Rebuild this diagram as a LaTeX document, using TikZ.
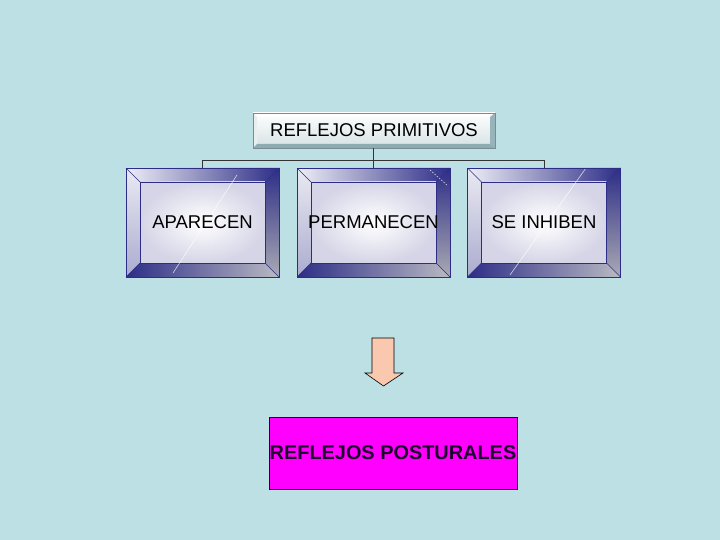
\documentclass[tikz,border=0pt]{standalone}
\usepackage{fontspec}
\setmainfont{Liberation Sans}
\usetikzlibrary{calc}
\definecolor{bg}{RGB}{188,224,228}
\definecolor{navy}{RGB}{45,45,135}
\definecolor{peach}{RGB}{250,200,175}
\definecolor{mag}{RGB}{255,0,255}
\definecolor{topedge}{RGB}{120,140,145}
\definecolor{tfacebot}{RGB}{212,225,228}
\definecolor{tright}{RGB}{150,180,186}
\definecolor{tbot}{RGB}{140,172,178}
\definecolor{gray1}{RGB}{170,170,180}
\definecolor{gray2}{RGB}{185,185,195}
\definecolor{postedge}{RGB}{40,0,50}
\definecolor{posttext}{RGB}{30,0,45}
\newcommand\bevshade[3]{%
 \path (#2-76.5,#3-54.5) coordinate (#1A) (#2+76.5,#3-54.5) coordinate (#1B)
       (#2+76.5,#3+54.5) coordinate (#1C) (#2-76.5,#3+54.5) coordinate (#1D)
       (#2-62.5,#3-40.5) coordinate (#1a) (#2+62.5,#3-40.5) coordinate (#1b)
       (#2+62.5,#3+40.5) coordinate (#1c) (#2-62.5,#3+40.5) coordinate (#1d);
 \shade[left color=white!92!navy, right color=navy] (#1A)--(#1B)--(#1b)--(#1a)--cycle;
 \shade[top color=white!90!navy, bottom color=white!60!navy] (#1A)--(#1a)--(#1d)--(#1D)--cycle;
 \shade[top color=navy, bottom color=gray1] (#1B)--(#1C)--(#1c)--(#1b)--cycle;
 \shade[left color=navy, right color=gray2] (#1D)--(#1d)--(#1c)--(#1C)--cycle;
 \shade[inner color=white, outer color=white!80!navy] (#1a) rectangle (#1c);
 \draw[navy, line width=0.5pt] (#1A)--(#1a) (#1B)--(#1b) (#1C)--(#1c) (#1D)--(#1d);
 \draw[navy, line width=0.7pt] (#1a) rectangle (#1c);
}
\begin{document}
\begin{tikzpicture}[x=1pt,y=-1pt,
  lbl/.style={font=\fontsize{18.5}{20}\selectfont, text=black, inner sep=0pt},
  bevnode/.style={lbl, draw=navy, line width=0.7pt, minimum width=153pt, minimum height=109pt},
  conn/.style={draw=black!80, line width=0.6pt}]
\fill[bg] (0,0) rectangle (720,540);
\useasboundingbox (0,0) rectangle (720,540);

% top box
\shade[top color=white, bottom color=tfacebot] (253,113) rectangle (495,148);
\fill[white] (253,113)--(495,113)--(490,117)--(257,117)--cycle;
\fill[white!85!topedge] (253,113)--(257,117)--(257,144)--(253,148)--cycle;
\fill[tright] (495,113)--(495,148)--(490,144)--(490,117)--cycle;
\fill[tbot] (253,148)--(495,148)--(490,144)--(257,144)--cycle;
\node[lbl, draw=topedge, line width=0.6pt, minimum width=242pt, minimum height=35pt] (top) at (374,130.5) {REFLEJOS PRIMITIVOS};

% beveled boxes
\bevshade{p}{202.5}{222.5}
\bevshade{q}{373.5}{222.5}
\bevshade{r}{544}{222.5}
\draw[white, opacity=0.75, line width=0.6pt] (237,175) -- (173,273);
\draw[white, opacity=0.75, line width=0.6pt] (586,168) -- (510,275);
\draw[white, opacity=0.8, line width=0.6pt, dash pattern=on 1.5pt off 1.5pt] (430,170) -- (448,186);
\node[bevnode] (b1) at (202.5,222.5) {APARECEN};
\node[bevnode] (b2) at (373.5,222.5) {PERMANECEN};
\node[bevnode] (b3) at (544,222.5) {SE INHIBEN};

% connectors
\coordinate (j) at (373.5,160);
\draw[conn] (top.south -| j) -- (j);
\draw[conn] (j) -| (b1.north);
\draw[conn] (j) -| (b3.north);
\draw[conn] (j) -- (b2.north);

% arrow
\draw[fill=peach, draw=black, line width=0.6pt] (372,338)--(394,338)--(394,373)--(403,373)--(383.5,386)--(365,373)--(372,373)--cycle;

% bottom box
\node[draw=postedge, line width=0.7pt, fill=mag, minimum width=248pt, minimum height=72pt, inner sep=0pt,
  font=\bfseries\fontsize{19.9}{21}\selectfont, text=posttext] (post) at (393,453) {REFLEJOS POSTURALES};
\end{tikzpicture}
\end{document}
